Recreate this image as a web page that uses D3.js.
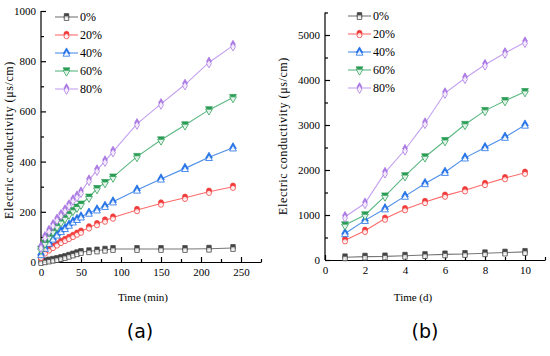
<!DOCTYPE html>
<html><head><meta charset="utf-8">
<script src="https://cdn.jsdelivr.net/npm/d3@7"></script>
<style>
body{margin:0;background:#fff;}
svg{display:block;}
.ax text{font-family:"Liberation Serif","Times New Roman",serif;font-size:11px;fill:#000;}
.ax path,.ax line{stroke:#000;stroke-width:1.2;}
</style></head>
<body><svg id="c" width="550" height="356"></svg>
<script>
const seriesNames = ["0%","20%","40%","60%","80%"];
const colorsFill = ["#444444","#f03a3a","#1e6fe6","#2a9d55","#a875e2"];
const colorsLine = ["#777777","#ff6b6b","#4d8fe8","#5bb882","#c3a0f0"];
const symbols = [d3.symbolSquare, d3.symbolCircle, d3.symbolTriangle, "down", d3.symbolDiamond];

// panel (a)
const timeMin = [0,5,10,15,20,25,30,35,40,45,50,60,70,80,90,120,150,180,210,240];
const a0  = [0,3,6,9,12,16,20,25,30,35,40,43,46,49,52,52,52,52,53,56];
const a20 = [20,38,50,60,70,80,88,96,104,113,121,138,151,165,177,207,233,256,280,300];
const a40 = [30,55,75,92,108,122,134,147,160,170,180,195,208,222,240,287,331,373,417,455];
const a60 = [50,75,100,122,142,160,175,190,205,218,230,258,292,316,338,420,486,546,606,655];
const a80 = [60,100,125,148,170,188,207,227,247,262,278,326,366,402,440,550,630,707,795,862];
const aXTicks = [0,50,100,150,200,250];
const aYTicks = [0,200,400,600,800,1000];

// panel (b)
const timeDay = [1,2,3,4,5,6,7,8,9,10];
const b0  = [60,75,80,95,110,125,135,150,165,180];
const b20 = [440,650,920,1130,1290,1430,1550,1690,1820,1940];
const b40 = [590,880,1140,1420,1700,1950,2270,2500,2730,3000];
const b60 = [780,1000,1420,1870,2290,2650,3010,3320,3540,3740];
const b80 = [960,1260,1940,2450,3040,3710,4040,4340,4600,4840];
const bXTicks = [0,2,4,6,8,10];
const bYTicks = [0,1000,2000,3000,4000,5000];

const svg = d3.select("#c");

function symPath(type, size){
  if(type==="down"){
    return d3.symbol().type(d3.symbolTriangle).size(size)();
  }
  return d3.symbol().type(type).size(size)();
}

function marker(g, x, y, i, size){
  const rot = symbols[i]==="down" ? " rotate(180)" : "";
  const p = symPath(symbols[i], size);
  g.append("path").attr("d", p).attr("transform", `translate(${x},${y-1.2})${rot}`)
    .attr("fill", colorsFill[i]).attr("stroke", colorsFill[i]).attr("stroke-width",0.7);
  g.append("path").attr("d", p).attr("transform", `translate(${x},${y+1.2})${rot}`)
    .attr("fill", "#fff").attr("fill-opacity",0.85).attr("stroke", colorsFill[i]).attr("stroke-width",0.8);
}

function panel(cfg){
  const g = svg.append("g");
  const x = d3.scaleLinear().domain(cfg.xDom).range(cfg.xRange);
  const y = d3.scaleLinear().domain(cfg.yDom).range(cfg.yRange);

  // minor ticks
  g.append("g").attr("class","ax").attr("transform",`translate(0,${cfg.yRange[0]})`)
    .call(d3.axisBottom(x).tickValues(cfg.xMinor).tickSize(-3).tickSizeOuter(0).tickFormat(""))
    .select(".domain").remove();
  g.append("g").attr("class","ax").attr("transform",`translate(${cfg.xRange[0]},0)`)
    .call(d3.axisLeft(y).tickValues(cfg.yMinor).tickSize(-3).tickSizeOuter(0).tickFormat(""))
    .select(".domain").remove();
  // major
  g.append("g").attr("class","ax").attr("transform",`translate(0,${cfg.yRange[0]})`)
    .call(d3.axisBottom(x).tickValues(cfg.xTicks).tickSize(-5).tickSizeOuter(0).tickPadding(6));
  const ya = g.append("g").attr("class","ax").attr("transform",`translate(${cfg.xRange[0]},0)`)
    .call(d3.axisLeft(y).tickValues(cfg.yTicks).tickSize(-5).tickSizeOuter(0).tickPadding(5).tickFormat(d3.format("d")));
  ya.select(".domain").attr("d", `M0,${cfg.yRange[0]}V${cfg.yRange[1]}`);

  const line = d3.line().x(d=>x(d[0])).y(d=>y(d[1]));
  cfg.series.forEach((vals,i)=>{
    const pts = cfg.t.map((t,k)=>[t, vals[k]]);
    g.append("path").datum(pts).attr("d", line).attr("fill","none")
      .attr("stroke", colorsLine[i]).attr("stroke-width",1.1);
  });
  cfg.series.forEach((vals,i)=>{
    cfg.t.forEach((t,k)=>marker(g, x(t), y(vals[k]), i, 20));
  });

  // legend
  seriesNames.forEach((n,i)=>{
    const ly = cfg.legY + i*18;
    g.append("line").attr("x1",cfg.legX).attr("x2",cfg.legX+23).attr("y1",ly).attr("y2",ly)
      .attr("stroke",colorsLine[i]).attr("stroke-width",1.1);
    marker(g, cfg.legX+11.5, ly, i, 20);
    g.append("text").attr("x",cfg.legX+25).attr("y",ly+4)
      .style("font-family","'Liberation Serif',serif").style("font-size","12px").text(n);
  });

  // axis titles
  g.append("text").attr("x",cfg.xTitleX).attr("y",301).attr("text-anchor","middle")
    .style("font-family","'Liberation Serif',serif").style("font-size","11px").text(cfg.xTitle);
  g.append("text").attr("transform",`translate(${cfg.yTitleX},${cfg.yTitleY}) rotate(-90)`)
    .attr("text-anchor","middle").style("font-family","'Liberation Serif',serif")
    .style("font-size","12px").style("letter-spacing","0.6px").text("Electric conductivity (μs/cm)");
  g.append("text").attr("x",cfg.labX).attr("y",338).attr("text-anchor","middle")
    .style("font-family","'DejaVu Sans',sans-serif").style("font-size","19px").text(cfg.lab);
}

panel({
  xDom:[0,275], xRange:[41,261], yDom:[0,1000], yRange:[262,11],
  xTicks:aXTicks, yTicks:aYTicks,
  xMinor:[25,75,125,175,225,275], yMinor:[100,300,500,700,900],
  t:timeMin, series:[a0,a20,a40,a60,a80],
  legX:55, legY:17, xTitle:"Time (min)", xTitleX:143, yTitleX:13, yTitleY:140, lab:"(a)", labX:140
});
panel({
  xDom:[0,11], xRange:[325,545], yDom:[0,5500], yRange:[260,12.5],
  xTicks:bXTicks, yTicks:bYTicks,
  xMinor:[1,3,5,7,9,11], yMinor:[500,1500,2500,3500,4500,5500],
  t:timeDay, series:[b0,b20,b40,b60,b80],
  legX:348, legY:16, xTitle:"Time (d)", xTitleX:413, yTitleX:287, yTitleY:136, lab:"(b)", labX:425
});
</script></body></html>
